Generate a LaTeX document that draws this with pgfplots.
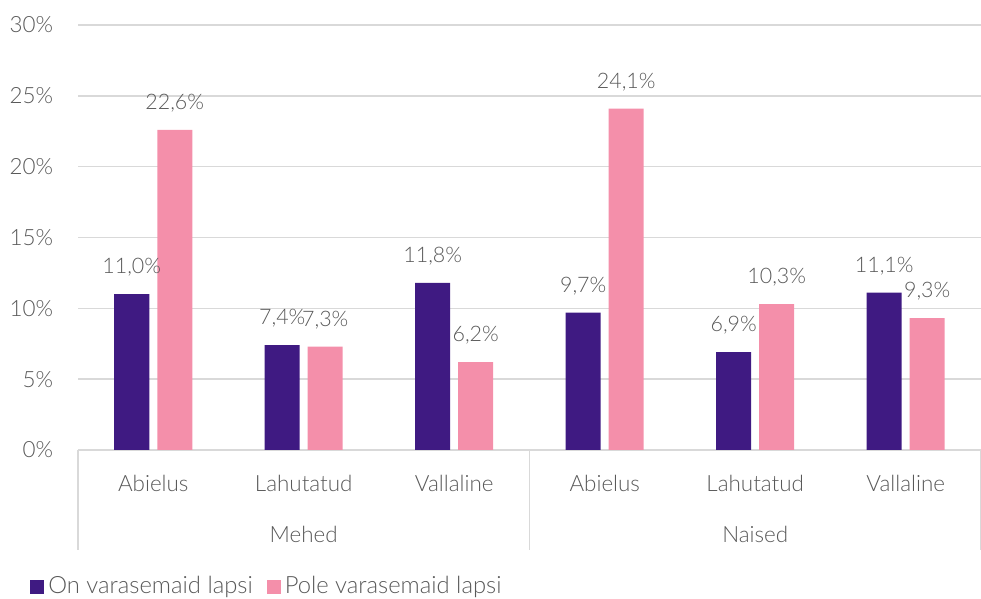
\documentclass[border=0pt]{standalone}
\usepackage{fontspec}
\setmainfont{Lato Light}
\usepackage{pgfplots}
\pgfplotsset{compat=1.18}
\definecolor{cpurple}{HTML}{3F1A82}
\definecolor{cpink}{HTML}{F48FAA}
\definecolor{ctext}{HTML}{595959}
\definecolor{cgrid}{HTML}{D9D9D9}
\newcommand{\ff}{\fontsize{11.2}{13}\selectfont}
\newcommand{\fd}{\fontsize{10.7}{13}\selectfont}
\newcommand{\fl}{\fontsize{11.9}{14}\selectfont}
\begin{document}
\ff
\begin{tikzpicture}
\useasboundingbox (0,0) rectangle (490.5pt,299.5pt);
\begin{axis}[
  at={(39pt,74.5pt)}, anchor=south west,
  scale only axis, width=451.5pt, height=212.5pt,
  ymin=0, ymax=30, ytick={0,5,...,30},
  xmin=-0.5, xmax=5.5, xtick={0,...,5},
  xticklabels={Abielus,Lahutatud,Vallaline,Abielus,Lahutatud,Vallaline},
  ybar, bar width=17.5pt,
  axis line style={draw=none},
  tick style={draw=none},
  ymajorgrids, major grid style={cgrid, line width=0.8pt},
  /pgf/number format/assume math mode=true,
  yticklabel={\pgfmathprintnumber{\tick}\%},
  ticklabel style={font=\ff, text=ctext},
  yticklabel style={anchor=east, xshift=-8.5pt},
  xticklabel style={anchor=base, yshift=-16.5pt},
  clip=false,
  nodes near coords={\pgfmathprintnumber[fixed,fixed zerofill,precision=1,use comma,assume math mode=true]{\pgfplotspointmeta}\%},
  every node near coord/.append style={font=\fd, text=ctext, anchor=south, yshift=5pt, inner xsep=1pt},
  legend style={at={(-0.0532,-0.3224)}, anchor=west, draw=none, fill=none, inner sep=0pt,
    font=\fl, text=ctext, legend columns=2,
    /tikz/every even column/.append style={column sep=5pt}},
  legend image code/.code={\fill[#1] (0pt,-3.5pt) rectangle (7pt,3.5pt);},
]
\addplot[fill=cpurple, draw=none, bar shift=-10.75pt] coordinates {(0,11.0) (1,7.4) (2,11.8) (3,9.7) (4,6.9) (5,11.1)};
\addplot[fill=cpink, draw=none, bar shift=10.75pt] coordinates {(0,22.6) (1,7.3) (2,6.2) (3,24.1) (4,10.3) (5,9.3)};
\legend{On varasemaid lapsi, Pole varasemaid lapsi}
\draw[cgrid, line width=0.8pt] (axis cs:-0.5,0) -- ([yshift=-50pt]axis cs:-0.5,0);
\draw[cgrid, line width=0.8pt] (axis cs:2.5,0) -- ([yshift=-50pt]axis cs:2.5,0);
\draw[cgrid, line width=0.8pt] (axis cs:5.5,0) -- ([yshift=-50pt]axis cs:5.5,0);
\node[anchor=base, text=ctext, yshift=-46.5pt] at (axis cs:1,0) {Mehed};
\node[anchor=base, text=ctext, yshift=-46.5pt] at (axis cs:4,0) {Naised};
\end{axis}
\end{tikzpicture}
\end{document}
